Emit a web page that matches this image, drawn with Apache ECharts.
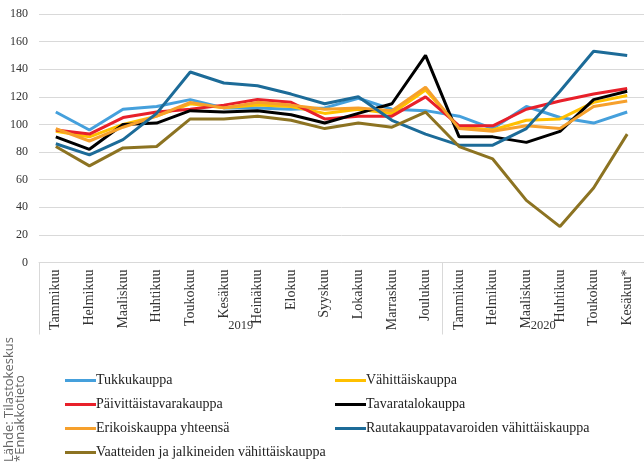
<!DOCTYPE html>
<html>
<head>
<meta charset="utf-8">
<script src="https://cdn.jsdelivr.net/npm/echarts@6/dist/echarts.min.js"></script>
<style>html,body{margin:0;padding:0;background:#fff;}#c{width:644px;height:463px;}</style>
</head>
<body>
<div id="c"></div>
<script>
var months = ['Tammikuu','Helmikuu','Maaliskuu','Huhtikuu','Toukokuu','Kesäkuu','Heinäkuu','Elokuu','Syyskuu','Lokakuu','Marraskuu','Joulukuu','Tammikuu','Helmikuu','Maaliskuu','Huhtikuu','Toukokuu','Kesäkuu*'];
var years = ['2019', '2020'];
var yearPos = [6, 15];
var yearBounds = [0, 12, 18];
var yTicks = [0, 20, 40, 60, 80, 100, 120, 140, 160, 180];

var tukku      = [109, 96, 111, 113, 118, 112, 112, 111, 112, 119, 111, 110, 106, 97, 113, 105, 101, 109];
var vahittais  = [95, 91, 100, 106, 115, 112, 114, 113, 108, 111, 108, 125, 98, 96, 103, 104, 116, 121];
var paivittais = [96, 93, 105, 109, 111, 114, 118, 116, 104, 106, 106, 120, 99, 99, 111, 117, 122, 126];
var tavaratalo = [91, 82, 100, 101, 110, 109, 110, 107, 101, 108, 115, 150, 91, 91, 87, 95, 118, 124];
var erikois    = [97, 88, 98, 106, 116, 112, 116, 114, 111, 112, 110, 127, 97, 95, 99, 97, 113, 117];
var rauta      = [86, 78, 89, 108, 138, 130, 128, 122, 115, 120, 103, 93, 85, 85, 97, 124, 153, 150];
var vaatteet   = [84, 70, 83, 84, 104, 104, 106, 103, 97, 101, 98, 109, 84, 75, 45, 26, 54, 93];

var names = ['Tukkukauppa','Vähittäiskauppa','Päivittäistavarakauppa','Tavaratalokauppa','Erikoiskauppa yhteensä','Rautakauppatavaroiden vähittäiskauppa','Vaatteiden ja jalkineiden vähittäiskauppa'];
var colors = ['#45a0dc','#ffc000','#e8202a','#000000','#f6a02c','#1c6b98','#8c7322'];
var values = [tukku, vahittais, paivittais, tavaratalo, erikois, rauta, vaatteet];

var serif = '"Liberation Serif", "DejaVu Serif", serif';
var chart = echarts.init(document.getElementById('c'));
var series = names.map(function (n, i) {
  return {
    name: n, type: 'line', data: values[i], symbol: 'none',
    xAxisIndex: 0, yAxisIndex: 0,
    lineStyle: { color: colors[i], width: 3 },
    itemStyle: { color: colors[i] },
    animation: false
  };
});
function legendAt(left, data) {
  return {
    orient: 'vertical', left: left, top: 373.5, height: 89.5, padding: 0,
    itemWidth: 31, itemHeight: 14, itemGap: 10,
    icon: 'path://M0,5.5 L31,5.5 L31,8.5 L0,8.5 Z',
    textStyle: { fontFamily: serif, fontSize: 14, lineHeight: 14, color: '#222', padding: [0, 0, 0, -5] },
    selectedMode: false,
    data: data
  };
}
chart.setOption({
  animation: false,
  grid: { left: 39, top: 14, width: 611, height: 248.5, containLabel: false },
  xAxis: [{
    type: 'category', data: months, boundaryGap: true,
    axisLine: { show: true, lineStyle: { color: '#d9d9d9', width: 1 } },
    axisTick: { show: false },
    axisLabel: { rotate: 90, interval: 0, margin: 7, fontFamily: serif, fontSize: 14, color: '#333' }
  }, {
    type: 'value', min: 0, max: 18, position: 'bottom',
    axisLine: { show: false },
    splitLine: { show: false },
    axisTick: { show: true, customValues: yearBounds, length: 72, lineStyle: { color: '#d9d9d9', width: 1 } },
    axisLabel: { customValues: yearPos, margin: 57, fontFamily: serif, fontSize: 12.5, color: '#333',
      formatter: function (v) { return years[yearPos.indexOf(v)]; } }
  }],
  yAxis: {
    type: 'value', min: yTicks[0], max: yTicks[yTicks.length - 1], interval: 20,
    axisLine: { show: false }, axisTick: { show: false },
    splitLine: { lineStyle: { color: '#d9d9d9', width: 1 } },
    axisLabel: { margin: 11, fontFamily: serif, fontSize: 12, color: '#333' }
  },
  legend: [
    legendAt(65, [names[0], names[2], names[4], names[6]]),
    legendAt(335, [names[1], names[3], names[5]])
  ],
  graphic: [
    { type: 'text', x: 9, y: 462, rotation: Math.PI / 2,
      style: { text: 'Lähde: Tilastokeskus', fill: '#666', font: '13px "Open Sans", sans-serif', align: 'left', verticalAlign: 'middle' } },
    { type: 'text', x: 20, y: 462, rotation: Math.PI / 2,
      style: { text: '*Ennakkotieto', fill: '#666', font: '13px "Open Sans", sans-serif', align: 'left', verticalAlign: 'middle' } }
  ],
  series: series
});
</script>
</body>
</html>
